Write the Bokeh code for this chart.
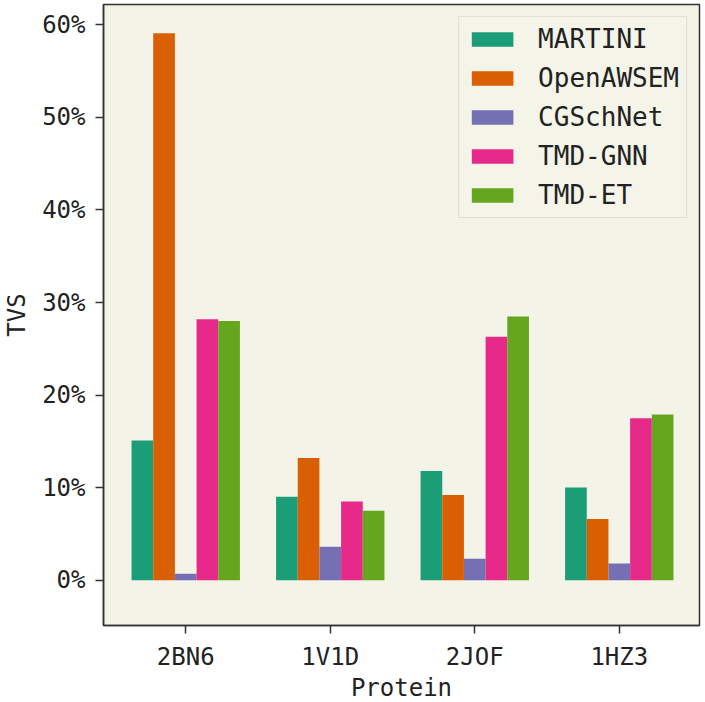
from bokeh.plotting import figure
from bokeh.models import ColumnDataSource, Range1d, FixedTicker, NumeralTickFormatter, Legend, LegendItem
from bokeh.transform import dodge
from bokeh.embed import file_html
from bokeh.resources import INLINE

proteins = ["2BN6", "1V1D", "2JOF", "1HZ3"]
methods = ["MARTINI", "OpenAWSEM", "CGSchNet", "TMD-GNN", "TMD-ET"]
martini = [0.151, 0.090, 0.118, 0.100]
openawsem = [0.591, 0.132, 0.092, 0.066]
cgschnet = [0.007, 0.036, 0.023, 0.018]
tmd_gnn = [0.282, 0.085, 0.263, 0.175]
tmd_et = [0.280, 0.075, 0.285, 0.179]
colors = ["#1b9e77", "#d95f02", "#7570b3", "#e7298a", "#66a61e"]
y_ticks = [0.0, 0.1, 0.2, 0.3, 0.4, 0.5, 0.6]

FONT = "DejaVu Sans Mono"
BG = "#f3f3e8"

src = ColumnDataSource(dict(
    x=list(range(len(proteins))),
    MARTINI=martini, OpenAWSEM=openawsem, CGSchNet=cgschnet,
    **{"TMD-GNN": tmd_gnn, "TMD-ET": tmd_et},
))

p = figure(frame_width=596, frame_height=621, output_backend="svg", toolbar_location=None,
           x_range=Range1d(-0.569, 3.555), y_range=Range1d(-0.049, 0.622),
           min_border_left=10, min_border_right=2, min_border_top=4, min_border_bottom=10)
p.background_fill_color = BG
p.border_fill_color = "white"
p.outline_line_color = "#333333"
p.outline_line_width = 1.5
p.xgrid.visible = False
p.ygrid.visible = False

bw = 0.15
items = []
for i, (m, c) in enumerate(zip(methods, colors)):
    r = p.vbar(x=dodge("x", (i - 2) * bw, range=p.x_range), top=m, bottom=0, width=bw,
               source=src, fill_color=c, line_color=None)
    items.append(LegendItem(label=m, renderers=[r]))

p.xaxis.ticker = FixedTicker(ticks=list(range(len(proteins))))
p.xaxis.major_label_overrides = {i: s for i, s in enumerate(proteins)}
p.yaxis.ticker = FixedTicker(ticks=y_ticks)
p.yaxis.formatter = NumeralTickFormatter(format="0%")
p.xaxis.axis_label = "Protein"
p.yaxis.axis_label = "TVS"

for ax in (p.xaxis[0], p.yaxis[0]):
    ax.axis_line_color = "#333333"
    ax.axis_line_width = 1.5
    ax.major_tick_line_color = "#333333"
    ax.major_tick_line_width = 1.5
    ax.major_tick_out = 8
    ax.major_tick_in = 0
    ax.minor_tick_line_color = None
    ax.major_label_text_font = FONT
    ax.major_label_text_font_size = "24px"
    ax.major_label_text_color = "#222222"
    ax.axis_label_text_font = FONT
    ax.axis_label_text_font_size = "24px"
    ax.axis_label_text_font_style = "normal"
    ax.axis_label_text_color = "#222222"

p.xaxis.major_label_standoff = 9
p.xaxis.axis_label_standoff = 0
p.yaxis.major_label_standoff = 10
p.yaxis.axis_label_standoff = 8

legend = Legend(items=items, location="top_right")
legend.margin = 12
legend.padding = 7
legend.spacing = 9
legend.glyph_width = 52
legend.glyph_height = 18
legend.label_height = 26
legend.label_standoff = 20
legend.label_text_font = FONT
legend.label_text_font_size = "26px"
legend.label_text_color = "#222222"
legend.background_fill_color = BG
legend.background_fill_alpha = 0.85
legend.border_line_color = "#cccccc"
legend.border_line_width = 1.5
p.add_layout(legend)

open("out.html", "w").write(file_html(p, INLINE))
